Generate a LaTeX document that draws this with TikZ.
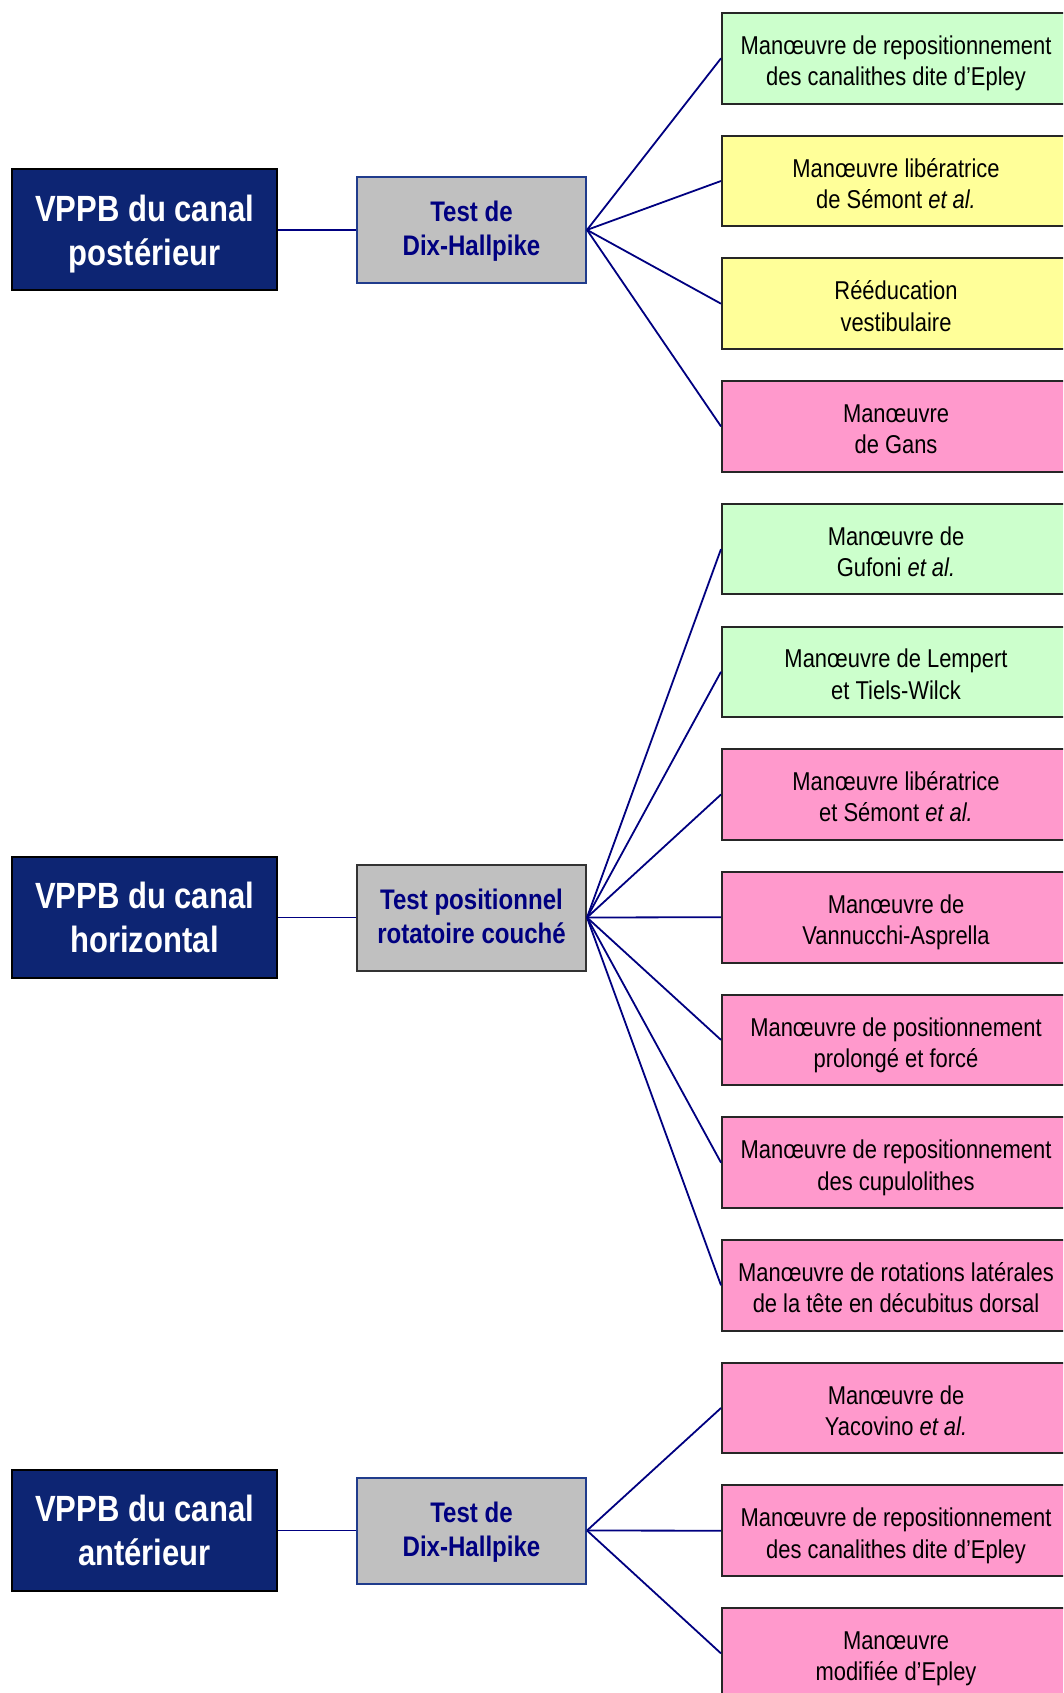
\documentclass[tikz,border=0pt]{standalone}
\usepackage{fontspec}
\setmainfont{Liberation Sans}[FakeStretch=0.85]
\definecolor{navybox}{RGB}{13,37,115}
\definecolor{navytxt}{RGB}{0,0,128}
\definecolor{grayfill}{RGB}{192,192,192}
\definecolor{dhborder}{RGB}{32,60,140}
\definecolor{gfill}{RGB}{204,255,204}
\definecolor{yfill}{RGB}{255,255,153}
\definecolor{pfill}{RGB}{255,153,204}
\definecolor{conncol}{RGB}{0,0,128}
\tikzset{
  lbox/.style={draw=black, line width=2pt, fill=navybox, text=white, inner sep=0pt,
    minimum width=265pt, minimum height=121pt, align=center,
    font=\bfseries\fontsize{36.5}{44}\selectfont,
    execute at end node={\rule[-8pt]{0pt}{86.6pt}}},
  tbox/.style={draw=dhborder, line width=2pt, fill=grayfill, text=navytxt, inner sep=0pt,
    minimum width=229pt, minimum height=106pt, align=center,
    font=\bfseries\fontsize{28.3}{33.5}\selectfont,
    execute at end node={\rule[-6pt]{0pt}{63.2pt}}},
  rbox/.style={draw=black!85, line width=2pt, inner sep=0pt,
    minimum width=348pt, minimum height=90.6pt, align=center,
    font=\fontsize{25.8}{31.3}\selectfont,
    execute at end node={\rule[-6pt]{0pt}{66.8pt}}},
  conn/.style={draw=conncol, line width=1.8pt},
}
\begin{document}
\begin{tikzpicture}[x=1pt,y=-1pt]
\useasboundingbox (0,0) rectangle (1063,1693);
\clip (0,0) rectangle (1063,1693);
% left boxes
\node[lbox] (p) at (144.5,229.9) {VPPB du canal\\postérieur};
\node[lbox] (h) at (144.5,917.5) {VPPB du canal\\horizontal};
\node[lbox] (a) at (144.5,1530.5) {VPPB du canal\\antérieur};
% test boxes
\node[tbox] (t1) at (471.5,229.9) {Test de\\Dix-Hallpike};
\node[tbox, draw=black!80] (t2) at (471.5,917.5) {Test positionnel\\rotatoire couché};
\node[tbox] (t3) at (471.5,1530.5) {Test de\\Dix-Hallpike};
% right boxes
\node[rbox, fill=gfill] (r0) at (896,58.3) {Manœuvre de repositionnement\\des canalithes dite d’Epley};
\node[rbox, fill=yfill] (r1) at (896,181.0) {Manœuvre libératrice\\de Sémont \textit{et al.}};
\node[rbox, fill=yfill] (r2) at (896,303.7) {Rééducation\\vestibulaire};
\node[rbox, fill=pfill] (r3) at (896,426.4) {Manœuvre\\de Gans};
\node[rbox, fill=gfill] (r4) at (896,549.1) {Manœuvre de\\Gufoni \textit{et al.}};
\node[rbox, fill=gfill] (r5) at (896,671.8) {Manœuvre de Lempert\\et Tiels-Wilck};
\node[rbox, fill=pfill] (r6) at (896,794.5) {Manœuvre libératrice\\et Sémont \textit{et al.}};
\node[rbox, fill=pfill] (r7) at (896,917.2) {Manœuvre de\\Vannucchi-Asprella};
\node[rbox, fill=pfill] (r8) at (896,1039.9) {Manœuvre de positionnement\\prolongé et forcé};
\node[rbox, fill=pfill] (r9) at (896,1162.6) {Manœuvre de repositionnement\\des cupulolithes};
\node[rbox, fill=pfill] (r10) at (896,1285.3) {Manœuvre de rotations latérales\\de la tête en décubitus dorsal};
\node[rbox, fill=pfill] (r11) at (896,1408.0) {Manœuvre de\\Yacovino \textit{et al.}};
\node[rbox, fill=pfill] (r12) at (896,1530.7) {Manœuvre de repositionnement\\des canalithes dite d’Epley};
\node[rbox, fill=pfill] (r13) at (896,1653.4) {Manœuvre\\modifiée d’Epley};
% connectors
\draw[conn] (p.east) -- (t1.west);
\draw[conn] (h.east) -- (t2.west);
\draw[conn] (a.east) -- (t3.west);
\foreach \i in {0,...,3} \draw[conn] (t1.east) -- (r\i.west);
\foreach \i in {4,...,10} \draw[conn] (t2.east) -- (r\i.west);
\foreach \i in {11,...,13} \draw[conn] (t3.east) -- (r\i.west);
\end{tikzpicture}
\end{document}
